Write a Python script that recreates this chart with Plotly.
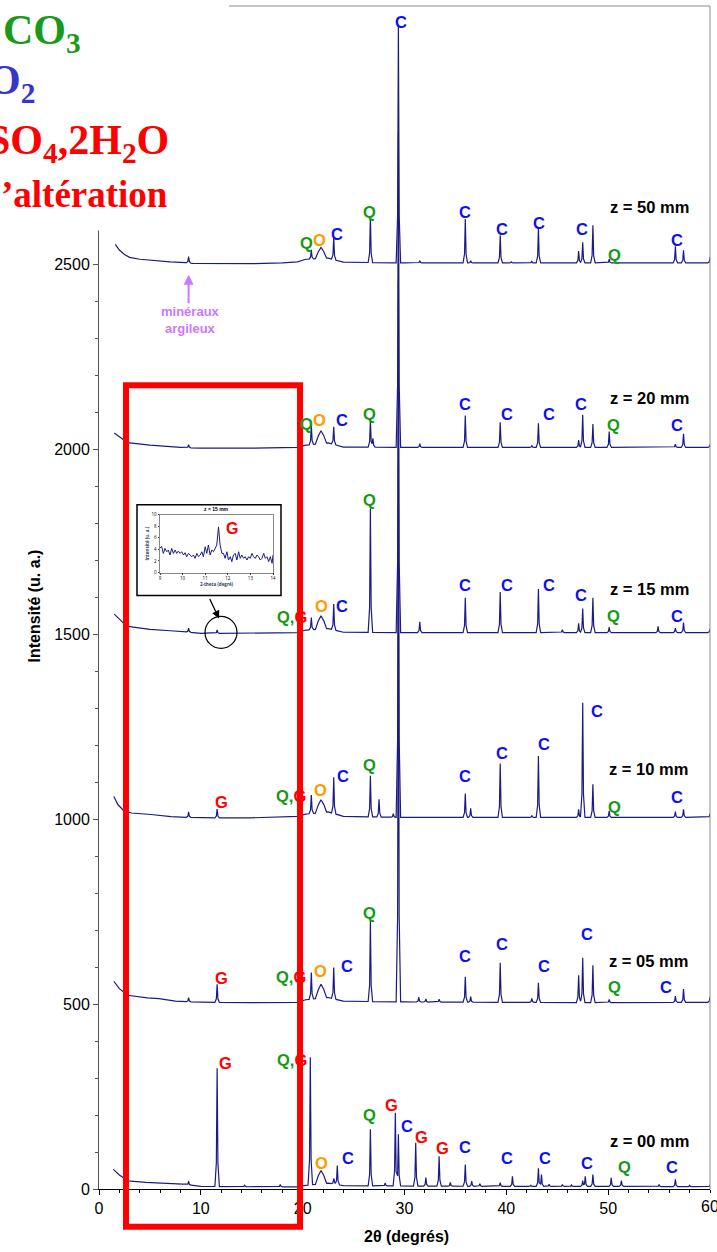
import numpy as np
import plotly.graph_objects as go

# ---------------- DATA ----------------
offsets = [0, 500, 1000, 1500, 2000, 2500]
sample_names = ["z = 00 mm", "z = 05 mm", "z = 10 mm", "z = 15 mm", "z = 20 mm", "z = 50 mm"]

# baselines (2theta, intensity above offset)
base_x_00 = [1.4, 2.0, 2.85, 4.6, 8.2, 10, 15, 19.5, 20.3, 22.5, 24, 30, 40, 50, 60]
base_y_00 = [53, 38, 22, 18, 13, 7, 6, 6, 10, 16, 9, 8, 7, 7, 6]
base_x_05 = [1.46, 2.0, 2.8, 4.75, 5.9, 7.5, 10, 15, 19.5, 20.3, 22.5, 24, 30, 40, 50, 60]
base_y_05 = [62, 42, 24, 17, 15, 8, 5, 4, 5, 12, 18, 8, 6, 5, 4, 5]
base_x_10 = [1.46, 1.85, 2.4, 3.2, 5.1, 7.07, 10, 15, 19.5, 20.3, 22.5, 24, 30, 60]
base_y_10 = [62, 40, 24, 17, 13, 7, 4, 4, 8, 14, 20, 8, 5, 5]
base_x_15 = [1.5, 2.0, 2.5, 3.0, 5, 7, 8.6, 10, 15, 19.5, 20.3, 22.5, 24, 30, 60]
base_y_15 = [55, 40, 28, 21, 14, 10, 7, 3, 3, 5, 12, 16, 6, 5, 5]
base_x_20 = [1.5, 2.0, 2.5, 3, 5, 8, 10, 15, 19.5, 20.3, 22.5, 24, 30, 60]
base_y_20 = [45, 35, 25, 18, 12, 6, 4, 4, 6, 12, 18, 7, 6, 6]
base_x_50 = [1.6, 2.0, 2.5, 3, 4, 5, 6, 7, 8.5, 9.2, 12, 15, 18, 19.5, 20.3, 22.5, 24, 30, 60]
base_y_50 = [55, 40, 28, 20, 15, 12, 10, 8, 6, 4, 3, 3, 5, 8, 15, 18, 7, 5, 5]

# sharp peaks (2theta, height above baseline)
pk_x_00 = [8.8, 11.6, 14.3, 17.8, 20.75, 23.05, 23.4, 26.65, 28.1, 29.1, 29.4, 31.1, 32.1, 33.4, 34.5,
           35.97, 36.6, 37.4, 39.4, 40.6, 42.4, 43.15, 43.45, 44.2, 45.5, 46.4, 47.5, 47.75, 48.5,
           50.3, 51.3, 55.0, 56.6, 58.0, 60.0]
pk_y_00 = [10, 320, 4, 6, 345, 15, 52, 153, 8, 198, 140, 117, 23, 81, 10,
           59, 14, 7, 10, 27, 3, 49, 32, 6, 5, 4, 16, 27, 32,
           23, 16, 6, 20, 4, 5]
pk_x_05 = [8.8, 11.6, 20.85, 23.05, 26.65, 29.4, 31.4, 32.1, 33.4, 35.97, 36.5, 39.4, 42.5, 43.15,
           47.1, 47.5, 48.5, 50.1, 56.6, 57.4, 60.0]
pk_y_05 = [11, 49, 72, 85, 218, 1150, 13, 8, 8, 69, 15, 107, 11, 53,
           74, 121, 101, 9, 17, 36, 15]
pk_x_10 = [8.8, 11.6, 20.85, 23.05, 26.65, 27.5, 28.9, 29.4, 35.97, 36.5, 39.4, 42.5, 43.15,
           47.1, 47.5, 48.5, 50.1, 56.6, 57.4, 60.0]
pk_y_10 = [15, 24, 50, 98, 111, 48, 10, 1050, 65, 25, 146, 5, 166,
           22, 310, 90, 18, 16, 22, 10]
pk_x_15 = [8.8, 11.6, 20.85, 23.05, 26.65, 29.4, 31.5, 35.97, 39.4, 43.15, 45.5, 47.1, 47.5, 48.5,
           50.1, 54.9, 56.6, 57.4, 60.0]
pk_y_15 = [11, 9, 33, 70, 335, 950, 29, 94, 110, 118, 8, 25, 65, 94,
           15, 17, 12, 27, 10]
pk_x_20 = [8.8, 20.85, 23.05, 26.65, 26.9, 29.4, 31.5, 35.97, 39.4, 42.5, 43.15, 47.1, 47.5, 48.5,
           50.1, 56.6, 57.4, 60.0]
pk_y_20 = [8, 54, 48, 72, 24, 850, 10, 86, 68, 5, 65, 20, 88, 63,
           43, 9, 37, 8]
pk_x_50 = [8.8, 20.85, 23.05, 26.65, 29.4, 31.5, 35.97, 36.5, 39.4, 40.5, 42.5, 43.15, 47.1, 47.5,
           48.5, 50.1, 56.6, 57.4, 60.0]
pk_y_50 = [17, 25, 60, 126, 645, 6, 119, 6, 75, 3, 4, 93, 32, 56,
           102, 10, 45, 34, 15]

# broad hump (O) near 21.8 deg
hump_x = [21.8, 21.8, 21.8, 21.8, 21.8, 21.8]
hump_y = [36, 38, 35, 36, 35, 30]

# peak labels: text, 2theta, absolute intensity
lab_txt = (["Q", "O", "C", "Q", "C", "C", "C", "C", "C", "Q", "C"] +
           ["Q", "O", "C", "Q", "C", "C", "C", "C", "Q", "C"] +
           ["QG", "O", "C", "Q", "C", "C", "C", "C", "Q", "C"] +
           ["G", "QG", "O", "C", "Q", "C", "C", "C", "C", "Q", "C"] +
           ["G", "QG", "O", "C", "Q", "C", "C", "C", "C", "Q", "C"] +
           ["G", "QG", "O", "C", "Q", "G", "C", "G", "G", "C", "C", "C", "C", "Q", "C"])
lab_x = ([20.4, 21.7, 23.4, 26.55, 29.66, 35.95, 39.55, 43.2, 47.4, 50.6, 56.75] +
         [20.4, 21.7, 23.9, 26.55, 35.95, 40.1, 44.2, 47.35, 50.5, 56.75] +
         [19.0, 21.8, 23.9, 26.55, 35.95, 40.1, 44.2, 47.35, 50.5, 56.75] +
         [12.0, 18.9, 21.76, 23.97, 26.6, 35.95, 39.55, 43.7, 48.9, 50.6, 56.75] +
         [12.0, 18.9, 21.76, 24.4, 26.6, 35.95, 39.55, 43.7, 47.9, 50.6, 55.7] +
         [12.4, 18.95, 21.8, 24.5, 26.55, 28.7, 30.2, 31.7, 33.75, 35.95, 40.1, 43.75, 47.9, 51.6, 56.3])
lab_y = ([2559, 2568, 2584, 2642, 3158, 2643, 2598, 2613, 2598, 2526, 2568] +
         [2069, 2081, 2081, 2096, 2123, 2096, 2096, 2123, 2067, 2067] +
         [1548, 1578, 1578, 1865, 1635, 1635, 1635, 1607, 1550, 1550] +
         [1047, 1063, 1078, 1118, 1148, 1118, 1179, 1205, 1292, 1034, 1061] +
         [571, 573, 591, 604, 746, 629, 662, 604, 690, 547, 547] +
         [342, 348, 69, 85, 201, 228, 171, 141, 111, 114, 85, 85, 69, 60, 60])

# sample name labels (2theta, absolute intensity)
name_x = [54.1, 54.0, 54.0, 54.1, 54.1, 54.1]
name_y = [130, 618, 1137, 1624, 2141, 2656]

# inset (z = 15 mm, zoom 9-14 deg)
inset_x = [9.00, 9.07, 9.15, 9.22, 9.30, 9.37, 9.44, 9.52, 9.59, 9.67, 9.74, 9.81, 9.89, 9.96,
           10.04, 10.11, 10.18, 10.26, 10.33, 10.41, 10.48, 10.55, 10.63, 10.70, 10.78, 10.85,
           10.92, 11.00, 11.07, 11.14, 11.22, 11.29, 11.37, 11.44, 11.51, 11.59, 11.66, 11.74,
           11.81, 11.88, 11.96, 12.03, 12.11, 12.18, 12.25, 12.33, 12.40, 12.48, 12.55, 12.62,
           12.70, 12.77, 12.85, 12.92, 12.99, 13.07, 13.14, 13.22, 13.29, 13.36, 13.44, 13.51,
           13.59, 13.66, 13.73, 13.81, 13.88, 13.96, 14.00]
inset_y = [4.23, 4.51, 3.31, 4.17, 3.60, 3.89, 3.03, 4.17, 3.31, 3.89, 3.31, 3.71, 3.31, 3.60,
           3.03, 3.43, 2.74, 3.31, 3.03, 2.74, 3.03, 2.46, 3.31, 2.74, 3.03, 3.60,
           2.74, 4.46, 3.31, 4.74, 3.03, 3.89, 3.60, 4.17, 4.74, 7.89, 4.74, 3.31,
           3.31, 2.46, 3.60, 2.17, 2.74, 1.89, 3.03, 3.31, 2.17, 3.60, 2.46, 3.03,
           2.46, 2.74, 2.17, 2.74, 2.46, 3.31, 2.74, 2.46, 3.03, 2.74, 2.17, 2.46,
           3.31, 2.46, 2.74, 1.89, 2.74, 1.60, 3.03]

# ---------------- BUILD ----------------
X_RANGE = [0, 60]
Y_RANGE = [0, 3200]
PEAK_W = 0.22
HUMP_W = 0.55
LINE_COLOR = "#1b1b86"

def profile(bx, by, px, ph, hx, hh):
    comps = []
    xs = list(bx)
    for p, h in zip(px, ph):
        vx = [p - PEAK_W, p - 0.35 * PEAK_W, p, p + 0.35 * PEAK_W, p + PEAK_W]
        vy = [0, 0.2 * h, h, 0.2 * h, 0]
        comps.append((vx, vy))
        xs += vx
    vx = [hx - HUMP_W, hx - 0.5 * HUMP_W, hx, hx + 0.5 * HUMP_W, hx + HUMP_W]
    vy = [0, 0.6 * hh, hh, 0.6 * hh, 0]
    comps.append((vx, vy))
    xs += vx
    xs = np.unique(np.array(xs))
    xs = xs[xs >= bx[0]]
    ys = np.interp(xs, bx, by)
    for vx, vy in comps:
        ys = ys + np.interp(xs, vx, vy, left=0, right=0)
    return xs, ys

bases = [(base_x_00, base_y_00), (base_x_05, base_y_05), (base_x_10, base_y_10),
         (base_x_15, base_y_15), (base_x_20, base_y_20), (base_x_50, base_y_50)]
peaks = [(pk_x_00, pk_y_00), (pk_x_05, pk_y_05), (pk_x_10, pk_y_10),
         (pk_x_15, pk_y_15), (pk_x_20, pk_y_20), (pk_x_50, pk_y_50)]

fig = go.Figure()
for i in range(6):
    xs, ys = profile(bases[i][0], bases[i][1], peaks[i][0], peaks[i][1], hump_x[i], hump_y[i])
    fig.add_trace(go.Scatter(x=xs, y=ys + offsets[i], mode="lines",
                             line=dict(color=LINE_COLOR, width=1.2),
                             showlegend=False, hoverinfo="skip"))

# inset trace
fig.add_trace(go.Scatter(x=inset_x, y=inset_y, mode="lines", xaxis="x2", yaxis="y2",
                         line=dict(color="#1b1b86", width=1), showlegend=False, hoverinfo="skip"))

W, H = 717, 1252
ML, MR, MT, MB = 99, 7, 3, 63
PW, PH = W - ML - MR, H - MT - MB

def px2paper(px, py):
    return (px - ML) / PW, (H - MB - py) / PH

def d2paper(xv, yv):
    return ((xv - X_RANGE[0]) / (X_RANGE[1] - X_RANGE[0]),
            (yv - Y_RANGE[0]) / (Y_RANGE[1] - Y_RANGE[0]))

SANS = "Liberation Sans, Arial"
COL = {"C": "#1010ee", "Q": "#149a14", "G": "#ff0000", "O": "#ff9a00"}
ann = []
for t, x, y in zip(lab_txt, lab_x, lab_y):
    if t == "QG":
        txt = ("<b><span style='color:%s'>Q,</span><span style='color:%s'>G</span></b>"
               % (COL["Q"], COL["G"]))
    else:
        txt = "<b>%s</b>" % t
    ann.append(dict(x=x, y=y, xref="x", yref="y", text=txt, showarrow=False,
                    font=dict(family=SANS, size=16.5, color=COL.get(t, "#000")),
                    xanchor="center", yanchor="middle"))
for n, x, y in zip(sample_names, name_x, name_y):
    ann.append(dict(x=x, y=y, xref="x", yref="y", text="<b>%s</b>" % n, showarrow=False,
                    font=dict(family=SANS, size=16.5, color="black"),
                    xanchor="center", yanchor="middle"))

# clay minerals annotation
ann.append(dict(x=8.8, y=2473, xref="x", yref="y", text="", showarrow=True, ax=0, ay=30,
                arrowhead=2, arrowsize=1, arrowwidth=2, arrowcolor="#cc77ff"))
ann.append(dict(x=8.95, y=2352, xref="x", yref="y", text="<b>minéraux<br>argileux</b>",
                showarrow=False, font=dict(family=SANS, size=13, color="#cc77ff"),
                xanchor="center", yanchor="middle"))

# arrow from inset to circle
ann.append(dict(x=11.79, y=1543, xref="x", yref="y", text="", showarrow=True, ax=-10, ay=-21,
                arrowhead=2, arrowsize=1.2, arrowwidth=1.3, arrowcolor="black"))

# inset labels
ann.append(dict(x=12.2, y=7.6, xref="x2", yref="y2", text="<b>G</b>", showarrow=False,
                font=dict(family=SANS, size=16, color="#ff0000"),
                xanchor="center", yanchor="middle"))
ix0, iy0 = px2paper(160, 571)
ix1, iy1 = px2paper(273, 513)
ann.append(dict(x=(ix0 + ix1) / 2, y=iy1 + 0.001, xref="paper", yref="paper", text="<b>z = 15 mm</b>",
                showarrow=False, font=dict(family=SANS, size=5, color="black"),
                xanchor="center", yanchor="bottom"))

# "60" end tick label (cut by the right edge as in the reference)
ann.append(dict(x=60, y=px2paper(0, 1207)[1], xref="x", yref="paper", text="60", showarrow=False,
                font=dict(family=SANS, size=16, color="black"), xanchor="center", yanchor="middle"))

# axis titles
ann.append(dict(x=px2paper(34, 0)[0], y=px2paper(0, 605)[1], xref="paper", yref="paper",
                text="<b>Intensité (u. a.)</b>", textangle=-90, showarrow=False,
                font=dict(family=SANS, size=16, color="black"),
                xanchor="center", yanchor="middle"))
ann.append(dict(x=px2paper(406, 0)[0], y=px2paper(0, 1237)[1], xref="paper", yref="paper",
                text="<b>2θ (degrés)</b>", showarrow=False,
                font=dict(family=SANS, size=16, color="black"),
                xanchor="center", yanchor="middle"))

# legend block (top-left)
SERIF = "Liberation Serif, Times New Roman, serif"
leg = [("<b>CO<sub>3</sub></b>", 1, 30, 42, "#1a9a1a"),
       ("<b>O<sub>2</sub></b>", -14, 80, 42, "#3636cc"),
       ("<b>SO<sub>4</sub>,2H<sub>2</sub>O</b>", -15, 140, 42, "#ff0000"),
       ("<b>’altération</b>", -1, 192, 37, "#ff0000")]
for t, px, py, fs, c in leg:
    xp, yp = px2paper(px, py)
    ann.append(dict(x=xp, y=yp, xref="paper", yref="paper", text=t, showarrow=False,
                    xanchor="left", yanchor="middle", font=dict(family=SERIF, size=fs, color=c)))

shapes = []
# frame top/right
shapes.append(dict(type="line", xref="paper", yref="paper", x0=0, x1=1, y0=1, y1=1,
                   line=dict(color="#8c8c8c", width=1)))
shapes.append(dict(type="line", xref="paper", yref="paper", x0=1, x1=1, y0=0, y1=1,
                   line=dict(color="#8c8c8c", width=1)))
# legend white box
lx0, ly0 = px2paper(-5, 228)
lx1, ly1 = px2paper(229, -5)
shapes.append(dict(type="rect", xref="paper", yref="paper", x0=lx0, x1=lx1, y0=ly0, y1=ly1,
                   fillcolor="white", line=dict(width=0), layer="above"))
# red rectangle (region 2.65-19.74 deg)
rx0, ry0 = d2paper(2.65, -102)
rx1, ry1 = d2paper(19.74, 2174)
shapes.append(dict(type="rect", xref="paper", yref="paper", x0=rx0, x1=rx1, y0=ry0, y1=ry1,
                   line=dict(color="#ff0000", width=6), fillcolor="rgba(0,0,0,0)", layer="above"))
# inset box
bx0, by0 = px2paper(137, 594)
bx1, by1 = px2paper(281, 503)
shapes.append(dict(type="rect", xref="paper", yref="paper", x0=bx0, x1=bx1, y0=by0, y1=by1,
                   line=dict(color="black", width=1.5), fillcolor="white", layer="below"))
# circle around the G peak
cx0, cy0 = px2paper(205, 647)
cx1, cy1 = px2paper(237, 615)
shapes.append(dict(type="circle", xref="paper", yref="paper", x0=cx0, x1=cx1, y0=cy0, y1=cy1,
                   line=dict(color="black", width=1.2)))

TICKFONT = dict(family=SANS, size=16, color="black")
fig.update_layout(
    width=W, height=H, margin=dict(l=ML, r=MR, t=MT, b=MB),
    paper_bgcolor="white", plot_bgcolor="white",
    xaxis=dict(range=X_RANGE, tickvals=[0, 10, 20, 30, 40, 50], ticks="outside", ticklen=5,
               tickcolor="black", showline=True, linecolor="black", linewidth=1, showgrid=False,
               zeroline=False, tickfont=TICKFONT,
               minor=dict(dtick=2, ticks="outside", ticklen=3, tickcolor="black")),
    yaxis=dict(range=Y_RANGE, dtick=500, tick0=0, ticks="outside", ticklen=5, tickcolor="#555",
               showline=True, linecolor="#555", linewidth=1, showgrid=False, zeroline=False,
               tickfont=TICKFONT,
               minor=dict(dtick=100, ticks="outside", ticklen=3, tickcolor="#555")),
    xaxis2=dict(domain=[ix0, ix1], anchor="y2", range=[9, 14], dtick=1, showgrid=False,
                zeroline=False, showline=True, mirror=True, linecolor="#888", linewidth=0.8,
                ticks="outside", ticklen=1.5, tickfont=dict(size=4.5, color="black"),
                title=dict(text="<b>2-theta (degré)</b>", font=dict(size=4.5), standoff=1)),
    yaxis2=dict(domain=[iy0, iy1], anchor="x2", range=[0, 10], dtick=2, showgrid=False,
                zeroline=False, showline=True, mirror=True, linecolor="#888", linewidth=0.8,
                ticks="outside", ticklen=1.5, tickfont=dict(size=4.5, color="black"),
                title=dict(text="<b>Intensité (u. a.)</b>", font=dict(size=4.5), standoff=1)),
    annotations=ann, shapes=shapes,
)

fig.write_html("out.html")
